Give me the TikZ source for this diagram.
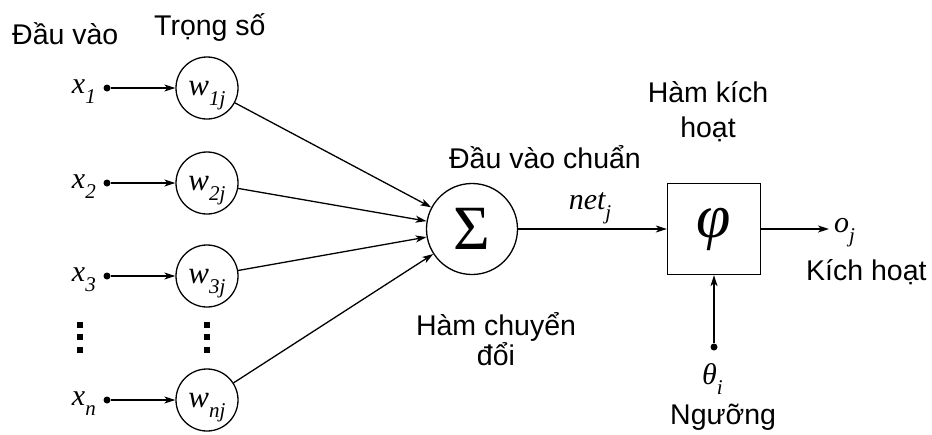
\documentclass[tikz,border=0pt]{standalone}
\usepackage{fontspec}
\setmainfont{Liberation Sans}
\newfontfamily\serfont{Liberation Serif}
\usetikzlibrary{arrows.meta}
\newcommand{\mylab}[2]{{\serfont\itshape #1\raisebox{-0.35em}{\fontsize{21}{21}\selectfont #2}}}
\begin{document}
\begin{tikzpicture}[x=1pt,y=-1pt,
  txt/.style={font=\fontsize{28.5}{34}\selectfont, inner sep=0, align=center},
  lbl/.style={font=\fontsize{30}{30}\selectfont, inner sep=0},
  wnode/.style={draw, circle, minimum size=62pt, inner sep=0, line width=1.3pt,
     font=\fontsize{31}{31}\selectfont, text height=27pt, text depth=13pt},
  dotnode/.style={circle, fill, inner sep=0, minimum size=7pt},
  arr/.style={-{Stealth[length=11pt,width=7pt,inset=3pt]}, line width=1.3pt}]
\useasboundingbox (0,0) rectangle (932,434);
% titles
\node[txt, anchor=base west] (tin) at (12,44) {Đầu vào};
\node[txt, anchor=base west] (tw) at (154,35) {Trọng số};
% weight circles
\node[wnode] (w1) at (207,88) {\mylab{w}{1j}};
\node[wnode] (w2) at (207,183) {\mylab{w}{2j}};
\node[wnode] (w3) at (207,276) {\mylab{w}{3j}};
\node[wnode] (wn) at (207,400) {\mylab{w}{nj}};
% input dots
\node[dotnode] (d1) at (107,88) {};
\node[dotnode] (d2) at (107,183) {};
\node[dotnode] (d3) at (107,276) {};
\node[dotnode] (dn) at (107,400) {};
% input labels
\node[lbl, anchor=base east] (x1) at (96,93) {\mylab{x}{1}};
\node[lbl, anchor=base east] (x2) at (96,188) {\mylab{x}{2}};
\node[lbl, anchor=base east] (x3) at (96,281) {\mylab{x}{3}};
\node[lbl, anchor=base east] (xn) at (96,405) {\mylab{x}{n}};
% vertical dots
\foreach \xx in {80,207}{
  \foreach \yy in {325,337,350}{
    \fill (\xx-2.6,\yy-2.6) rectangle (\xx+2.6,\yy+2.6);
  }
}
% input arrows
\draw[arr] (d1) -- (w1);
\draw[arr] (d2) -- (w2);
\draw[arr] (d3) -- (w3);
\draw[arr] (dn) -- (wn);
% summation
\node[draw, circle, minimum size=91pt, inner sep=0, line width=1.3pt,
      font=\fontsize{63}{63}\selectfont\serfont] (sum) at (472,229) {Σ};
\draw[arr] (w1) -- (sum);
\draw[arr] (w2) -- (sum);
\draw[arr] (w3) -- (sum);
\draw[arr] (wn) -- (sum);
\node[txt, anchor=base] (tnet) at (545,168) {Đầu vào chuẩn};
\node[txt] (ttr) at (496,339) {Hàm chuyển\\[-4pt]đổi};
% activation box
\node[draw, minimum width=93pt, minimum height=91pt, inner sep=0, line width=1.3pt,
      font=\fontsize{62}{62}\selectfont\serfont\itshape] (phi) at (714,229) {φ};
\node[lbl, anchor=base] (netj) at (590,209) {\mylab{net}{j}};
\draw[arr] (sum) -- (phi);
\node[txt] (tact) at (708,112) {Hàm kích\\[1pt]hoạt};
% output
\coordinate (oend) at (829,229);
\draw[arr] (phi) -- (oend);
\node[lbl, anchor=base west] (oj) at (834,232) {\mylab{o}{j}};
\node[txt, anchor=base west] (tout) at (806,280) {Kích hoạt};
% threshold
\node[dotnode] (th) at (714,347) {};
\draw[arr] (th) -- (phi);
\node[lbl, anchor=base west] (thl) at (702,384) {\mylab{θ}{i}};
\node[txt, anchor=base west] (tth) at (670,424) {Ngưỡng};
\end{tikzpicture}
\end{document}
